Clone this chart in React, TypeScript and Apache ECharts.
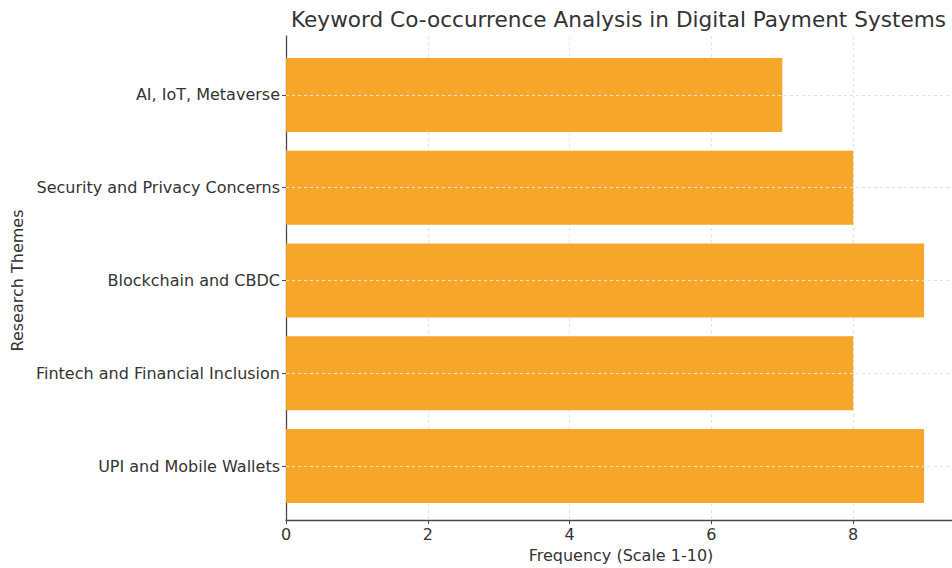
import React, { useEffect, useRef } from "react";
import * as echarts from "echarts";

// Research themes, bottom to top
const themes = [
  "UPI and Mobile Wallets",
  "Fintech and Financial Inclusion",
  "Blockchain and CBDC",
  "Security and Privacy Concerns",
  "AI, IoT, Metaverse",
];
const frequency = [9, 8, 9, 8, 7];

const titleText = "Keyword Co-occurrence Analysis in Digital Payment Systems";
const xAxisTitle = "Frequency (Scale 1-10)";
const yAxisTitle = "Research Themes";

const FONT = "DejaVu Sans";
const TEXT = "#333333";
const SPINE = "#4a4a4a";
const GRID_LINE = "#e2e2e2";
const BAR = "#F5A11D";

export default function App() {
  const ref = useRef<HTMLDivElement>(null);

  useEffect(() => {
    if (!ref.current) return;
    const chart = echarts.init(ref.current, undefined, { renderer: "svg" });

    const plotLeft = 286;
    const plotWidth = 670;
    const xMax = 9.45;

    chart.setOption({
      animation: false,
      backgroundColor: "#ffffff",
      title: {
        text: titleText,
        left: 291,
        top: 8,
        padding: 0,
        textStyle: { fontFamily: FONT, fontSize: 21.6, fontWeight: "normal", color: TEXT },
      },
      grid: [
        // frame: spines, x ticks and vertical grid lines
        { left: plotLeft, top: 36, width: plotWidth, height: 488 },
        // bar area: category bands
        { left: plotLeft, top: 48.6, width: plotWidth, height: 463.8 },
      ],
      xAxis: [
        {
          type: "value",
          gridIndex: 0,
          min: 0,
          max: xMax,
          interval: 2,
          name: xAxisTitle,
          nameLocation: "middle",
          nameGap: 26,
          nameTextStyle: { fontFamily: FONT, fontSize: 16, color: TEXT },
          axisLine: { show: true, lineStyle: { color: SPINE, width: 1.3 } },
          axisTick: { show: true, length: 4, lineStyle: { color: SPINE } },
          axisLabel: {
            fontFamily: FONT,
            fontSize: 16,
            color: TEXT,
            margin: 6,
            showMaxLabel: false,
          },
          splitLine: { show: true, lineStyle: { color: GRID_LINE, type: [3, 3], width: 1 } },
        },
        {
          type: "value",
          gridIndex: 1,
          min: 0,
          max: xMax,
          show: false,
        },
      ],
      yAxis: [
        {
          type: "value",
          gridIndex: 0,
          min: 0,
          max: 1,
          axisLine: { show: true, lineStyle: { color: SPINE, width: 1.3 } },
          axisTick: { show: false },
          axisLabel: { show: false },
          splitLine: { show: false },
        },
        {
          type: "category",
          gridIndex: 1,
          data: themes,
          name: yAxisTitle,
          nameLocation: "middle",
          nameRotate: 90,
          nameGap: 261,
          nameTextStyle: { fontFamily: FONT, fontSize: 16, color: TEXT },
          axisLine: { show: false },
          axisTick: { show: true, alignWithLabel: true, length: 4, lineStyle: { color: SPINE } },
          axisLabel: { fontFamily: FONT, fontSize: 16, color: TEXT, margin: 6 },
          splitLine: { show: false },
        },
      ],
      series: [
        {
          // horizontal grid lines at each theme
          type: "line",
          xAxisIndex: 1,
          yAxisIndex: 1,
          data: [],
          z: 1,
          silent: true,
          markLine: {
            silent: true,
            symbol: "none",
            label: { show: false },
            lineStyle: { color: GRID_LINE, type: [3, 3], width: 1 },
            data: themes.map((t) => ({ yAxis: t })),
          },
        },
        {
          type: "bar",
          xAxisIndex: 1,
          yAxisIndex: 1,
          data: frequency,
          barWidth: "80%",
          z: 2,
          itemStyle: { color: BAR, opacity: 0.95 },
        },
      ],
    });

    return () => chart.dispose();
  }, []);

  // the plot runs past the right edge of the visible frame
  return (
    <div
      style={{
        position: "absolute",
        left: 0,
        top: 0,
        width: 952,
        height: 568,
        overflow: "hidden",
      }}
    >
      <div ref={ref} style={{ width: 964, height: 568 }} />
    </div>
  );
}
